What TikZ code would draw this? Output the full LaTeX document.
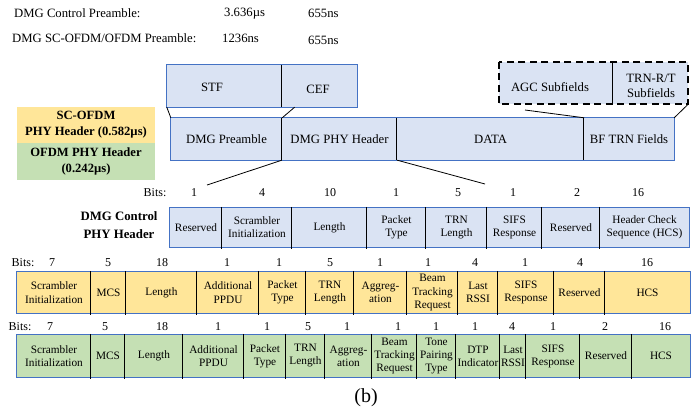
\documentclass[tikz,border=0pt]{standalone}
\usepackage{fontspec}
\setmainfont{Liberation Serif}
\usetikzlibrary{calc}

\definecolor{cellblue}{HTML}{DAE3F3}
\definecolor{edgeblue}{HTML}{4472C4}
\definecolor{cellyellow}{HTML}{FFE699}
\definecolor{cellgreen}{HTML}{C5E0B4}

\tikzset{
  cellbox/.style={draw=none, inner sep=0pt, align=center,
    font=\fontsize{11.3}{13}\selectfont},
  rowedge/.style={draw=edgeblue, line width=0.8pt},
  divider/.style={draw=black, line width=1.3pt},
  link/.style={draw=black, line width=0.8pt},
  plain/.style={inner sep=0pt, font=\fontsize{12.7}{14}\selectfont},
  bitnum/.style={inner sep=0pt, font=\fontsize{12}{13}\selectfont},
  legendtxt/.style={inner sep=0pt, align=center,
    font=\bfseries\fontsize{12.6}{16}\selectfont},
}

% A row of header fields: #1 name prefix, #2 top, #3 bottom, #4 fill,
% #5 list of left/right/text, #6 font for the field texts
\newcommand\fieldrow[6]{%
  \pgfmathsetmacro\rowht{#3-#2}%
  \foreach \xa/\xb/\txt [count=\i] in {#5} {
    \pgfmathsetmacro\cellwd{\xb-\xa}
    \node[cellbox, fill=#4, font=#6, minimum width=\cellwd pt,
      minimum height=\rowht pt] (#1\i) at ({(\xa+\xb)/2},{(#2+#3)/2}) {\txt};
  }
}

\begin{document}
\begin{tikzpicture}[x=1pt,y=-1pt]
\useasboundingbox (0,0) rectangle (696,415);

% preamble durations
\node[plain, anchor=west] (t1) at (14,13) {DMG Control Preamble:};
\node[plain, anchor=west] (t2) at (224,14) {3.636µs};
\node[plain, anchor=west] (t3) at (308,13) {655ns};
\node[plain, anchor=west] (t4) at (12,38) {DMG SC-OFDM/OFDM Preamble:};
\node[plain, anchor=west] (t5) at (222,38) {1236ns};
\node[plain, anchor=west] (t6) at (308,40) {655ns};

% STF / CEF
\fieldrow{pre}{65}{107}{cellblue}{167/282/{}, 282/357/{}}{\fontsize{12.7}{14}\selectfont}
\draw[rowedge] (pre1.north west) rectangle (pre2.south east);
\draw[divider] (pre2.north west) -- (pre2.south west);
\node[plain] (stftxt) at (212,87) {STF};
\node[plain] (ceftxt) at (318,89) {CEF};

% AGC / TRN subfields
\fieldrow{trn}{62}{104}{cellblue}{499/613/{}, 613/688/{}}{\fontsize{12.7}{14}\selectfont}
\draw[divider] (trn2.north west) -- (trn2.south west);
\draw[black, line width=2.2pt, dash pattern=on 7pt off 4.5pt]
  (trn1.north west) rectangle (trn2.south east);
\node[plain] (agctxt) at (550,87) {AGC Subfields};
\node[plain, align=center, font=\fontsize{12.7}{14.5}\selectfont] (trntxt) at (651,86) {TRN-R/T\\Subfields};

% main PPDU row
\fieldrow{main}{118}{160}{cellblue}{171/282/DMG Preamble, 282/397/DMG PHY Header, 397/584/DATA, 584/674/BF TRN Fields}{\fontsize{12.7}{14}\selectfont}
\draw[rowedge] (main1.north west) rectangle (main4.south east);
\foreach \i in {2,3,4} \draw[divider] (main\i.north west) -- (main\i.south west);

% legend
\node[legendtxt, fill=cellyellow, minimum width=138pt, minimum height=36pt] (leg1) at (86,125) {SC-OFDM\\PHY Header (0.582µs)};
\node[legendtxt, fill=cellgreen, minimum width=138pt, minimum height=37pt] (leg2) at (86,161.5) {OFDM PHY Header\\(0.242µs)};

% connectors between rows
\coordinate (cefcut) at ($(pre2.south west)!0.17!(pre2.south east)$);
\coordinate (agccut) at (525,110);
\coordinate (ctlL) at (207,185);
\coordinate (ctlR) at (485,184);
\draw[link] (pre1.south west) -- (main1.north west);
\draw[link] (cefcut) -- (main1.north east);
\draw[link] (agccut) -- (main3.north east);
\draw[link] (trn2.south east) -- (main4.north east);
\draw[link] (main2.south west) -- (ctlL);
\draw[link] (main2.south east) -- (ctlR);

% DMG control PHY header
\node[legendtxt, font=\bfseries\fontsize{12.8}{18}\selectfont] (ctlname) at (119,225) {DMG Control\\PHY Header};
\node[bitnum] (cb0) at (155,193) {Bits:};
\foreach \x/\b [count=\i] in {194/1, 262/4, 330/10, 396/1, 458/5, 513/1, 577/2, 638/16}
  \node[bitnum] (cb\i) at (\x,193) {\b};
\fieldrow{ctl}{208}{247}{cellblue}{170/222/Reserved, 222/292/{Scrambler\\Initialization}, 292/367/Length, 367/426/{Packet\\Type}, 426/487/{TRN\\Length}, 487/542/{SIFS\\Response}, 542/600/Reserved, 600/689/{Header Check\\Sequence (HCS)}}{\fontsize{11.3}{13}\selectfont}
\draw[rowedge] (ctl1.north west) rectangle (ctl8.south east);
\foreach \i in {2,...,8} \draw[divider] ([yshift=1pt]ctl\i.north west) -- ([yshift=-1.5pt]ctl\i.south west);

% SC-OFDM PHY header
\node[bitnum] (yb0) at (23,263) {Bits:};
\foreach \x/\b [count=\i] in {52/7, 108/5, 162/18, 227/1, 279/1, 330/5, 380/1, 428/1, 475/4, 525/1, 580/4, 647/16}
  \node[bitnum] (yb\i) at (\x,263) {\b};
\fieldrow{sc}{272}{313}{cellyellow}{17/91/{Scrambler\\Initialization}, 91/126/MCS, 126/197/Length, 197/259/{Additional\\PPDU}, 259/306/{Packet\\Type}, 306/354/{TRN\\Length}, 354/407/{Aggreg-\\ation}, 407/458/{Beam\\Tracking\\Request}, 458/498/{Last\\RSSI}, 498/554/{SIFS\\Response}, 554/605/Reserved, 605/690/HCS}{\fontsize{11.3}{13.5}\selectfont}
\draw[rowedge] (sc1.north west) rectangle (sc12.south east);
\foreach \i in {2,...,12} \draw[divider] ([yshift=1pt]sc\i.north west) -- ([yshift=-1.5pt]sc\i.south west);

% OFDM PHY header
\node[bitnum] (gb0) at (20,327) {Bits:};
\foreach \x/\b [count=\i] in {50/7, 105/5, 162/18, 218/1, 267/1, 308/5, 347/1, 398/1, 436/1, 475/1, 512/4, 553/1, 605/2, 665/16}
  \node[bitnum] (gb\i) at (\x,327) {\b};
\fieldrow{of}{335}{377}{cellgreen}{17/91/{Scrambler\\Initialization}, 91/125/MCS, 125/183/Length, 183/244/{Additional\\PPDU}, 244/286/{Packet\\Type}, 286/325/{TRN\\Length}, 325/372/{Aggreg-\\ation}, 372/417/{Beam\\Tracking\\Request}, 417/456/{Tone\\Pairing\\Type}, 456/500/{DTP\\Indicator}, 500/526/{Last\\RSSI}, 526/580/{SIFS\\Response}, 580/632/Reserved, 632/690/HCS}{\fontsize{11.3}{13}\selectfont}
\draw[rowedge] (of1.north west) rectangle (of14.south east);
\foreach \i in {2,...,14} \draw[divider] ([yshift=1pt]of\i.north west) -- ([yshift=-1.5pt]of\i.south west);

% caption
\node[inner sep=0pt, font=\fontsize{20}{22}\selectfont] (cap) at (366,398) {(b)};
\end{tikzpicture}
\end{document}
